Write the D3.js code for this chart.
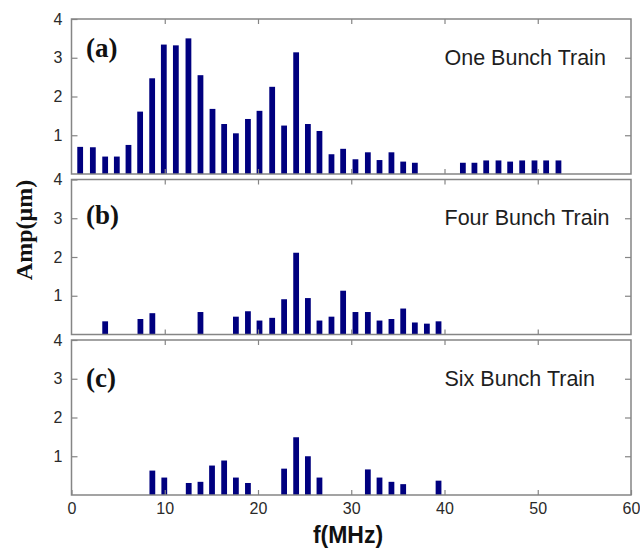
<!DOCTYPE html>
<html>
<head>
<meta charset="utf-8">
<script src="https://cdn.jsdelivr.net/npm/d3@7/dist/d3.min.js"></script>
<style>
  html, body { margin: 0; padding: 0; background: #fff; }
  svg { display: block; }
</style>
</head>
<body>
<svg id="chart" width="640" height="552"></svg>
<script>
// Spectrum amplitude versus frequency for three bunch-train fill patterns.
const yTicks = [1, 2, 3, 4];
const xTicks = [0, 10, 20, 30, 40, 50, 60];

// (a) One bunch train: frequency (MHz) and amplitude (µm)
const oneFreq = [0.93, 2.29, 3.61, 4.86, 6.11, 7.36, 8.65, 9.90, 11.19, 12.54,
  13.83, 15.12, 16.37, 17.63, 18.92, 20.16, 21.52, 22.80, 24.09, 25.35,
  26.59, 27.88, 29.13, 30.45, 31.78, 33.03, 34.31, 35.57, 36.82,
  41.97, 43.21, 44.47, 45.79, 47.04, 48.33, 49.65, 50.90, 52.22];
const oneAmp = [0.70, 0.69, 0.45, 0.45, 0.75, 1.61, 2.47, 3.34, 3.32, 3.50,
  2.55, 1.68, 1.29, 1.05, 1.42, 1.63, 2.25, 1.25, 3.14, 1.29,
  1.11, 0.51, 0.65, 0.38, 0.56, 0.36, 0.56, 0.32, 0.29,
  0.29, 0.29, 0.35, 0.35, 0.32, 0.35, 0.35, 0.35, 0.35];

// (b) Four bunch train
const fourFreq = [3.61, 7.39, 8.67, 13.83, 17.63, 18.92, 20.16, 21.52, 22.80, 24.09,
  25.35, 26.59, 27.88, 29.13, 30.45, 31.78, 33.03, 34.31, 35.57, 36.82, 38.11, 39.36];
const fourAmp = [0.34, 0.40, 0.55, 0.58, 0.46, 0.60, 0.36, 0.43, 0.91, 2.11,
  0.94, 0.36, 0.46, 1.13, 0.58, 0.58, 0.36, 0.40, 0.67, 0.31, 0.28, 0.34];

// (c) Six bunch train
const sixFreq = [8.67, 9.95, 12.57, 13.83, 15.07, 16.37, 17.63, 18.92,
  22.80, 24.09, 25.35, 26.59, 31.78, 33.03, 34.31, 35.57, 39.36];
const sixAmp = [0.63, 0.45, 0.31, 0.34, 0.76, 0.89, 0.45, 0.31,
  0.68, 1.49, 1.00, 0.45, 0.66, 0.45, 0.34, 0.28, 0.37];

const panels = [
  { tag: "(a)", title: "One Bunch Train", freq: oneFreq, amp: oneAmp, top: 19, tagBase: 57 },
  { tag: "(b)", title: "Four Bunch Train", freq: fourFreq, amp: fourAmp, top: 179.5, tagBase: 224 },
  { tag: "(c)", title: "Six Bunch Train", freq: sixFreq, amp: sixAmp, top: 340, tagBase: 387 }
];

const svg = d3.select("#chart");
const left = 71.5, right = 631, panelH = 155;
const barW = 0.62;          // bar width in MHz
const frameColor = "#858585";
const barColor = "#00007f";
const sans = "'Liberation Sans', Arial, Helvetica, sans-serif";
const serif = "'Liberation Serif', 'Times New Roman', serif";

const x = d3.scaleLinear().domain([0, 60]).range([left, right]);

panels.forEach((p, i) => {
  const y = d3.scaleLinear().domain([0, 4]).range([p.top + panelH, p.top]);
  const g = svg.append("g");
  const last = i === panels.length - 1;

  // bars
  const data = p.freq.map((f, k) => ({ f, v: p.amp[k] }));
  g.selectAll("rect.bar").data(data).join("rect")
    .attr("class", "bar")
    .attr("x", d => x(d.f - barW / 2))
    .attr("width", x(barW) - x(0))
    .attr("y", d => y(d.v))
    .attr("height", d => y(0) - y(d.v))
    .attr("fill", barColor);

  // inward ticks on all four sides
  const styleAxis = sel => {
    sel.select(".domain").remove();
    sel.selectAll(".tick line").attr("stroke", frameColor).attr("stroke-width", 1.2);
    sel.selectAll(".tick text").attr("fill", "#2a2a2a")
      .style("font-family", sans).style("font-size", "16px");
  };

  g.append("g").attr("transform", `translate(${left},0)`)
    .call(d3.axisLeft(y).tickValues(yTicks).tickFormat(d3.format("d"))
      .tickSize(-6).tickSizeOuter(0).tickPadding(9))
    .call(styleAxis);

  g.append("g").attr("transform", `translate(${right},0)`)
    .call(d3.axisRight(y).tickValues(yTicks.slice(0, 3)).tickFormat("")
      .tickSize(-6).tickSizeOuter(0))
    .call(styleAxis);

  g.append("g").attr("transform", `translate(0,${p.top})`)
    .call(d3.axisTop(x).tickValues(xTicks.slice(1, -1)).tickFormat("")
      .tickSize(-5).tickSizeOuter(0))
    .call(styleAxis);

  g.append("g").attr("transform", `translate(0,${p.top + panelH})`)
    .call(d3.axisBottom(x).tickValues(last ? xTicks : xTicks.slice(1, -1))
      .tickFormat(last ? d3.format("d") : "")
      .tickSize(-5).tickSizeOuter(0).tickPadding(8))
    .call(styleAxis);

  // frame
  g.append("rect")
    .attr("x", left).attr("y", p.top)
    .attr("width", right - left).attr("height", panelH)
    .attr("fill", "none").attr("stroke", frameColor).attr("stroke-width", 1.5);

  // panel tag and title
  g.append("text")
    .attr("x", 86).attr("y", p.tagBase)
    .style("font-family", serif).style("font-weight", "bold").style("font-size", "27px")
    .attr("fill", "#111")
    .text(p.tag);

  g.append("text")
    .attr("x", x(40)).attr("y", y(3) + 7)
    .style("font-family", sans).style("font-size", "21.5px")
    .attr("fill", "#1e1e1e")
    .text(p.title);
});

// axis titles
svg.append("text")
  .attr("transform", "translate(32,230) rotate(-90)")
  .attr("text-anchor", "middle")
  .style("font-family", serif).style("font-weight", "bold").style("font-size", "24px")
  .attr("fill", "#111")
  .text("Amp(μm)");

svg.append("text")
  .attr("x", 348).attr("y", 543)
  .attr("text-anchor", "middle")
  .style("font-family", sans).style("font-weight", "bold").style("font-size", "23px")
  .attr("fill", "#111")
  .text("f(MHz)");
</script>
</body>
</html>
